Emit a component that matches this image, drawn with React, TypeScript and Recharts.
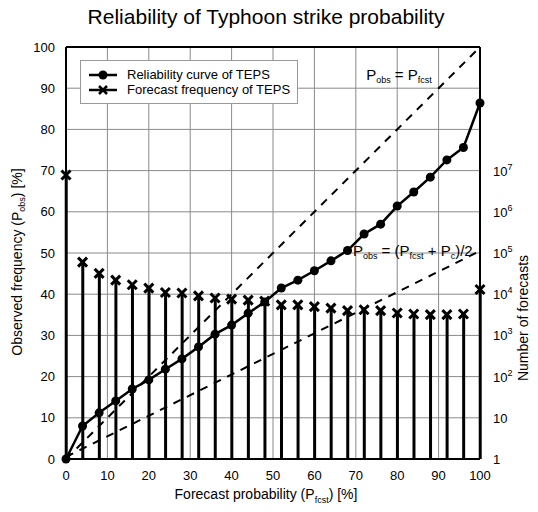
import {
  Bar,
  CartesianGrid,
  ComposedChart,
  Line,
  ReferenceDot,
  ReferenceLine,
  Scatter,
  XAxis,
  YAxis,
} from "recharts";

// forecast probability bins (%)
const probs = [0, 4, 8, 12, 16, 20, 24, 28, 32, 36, 40, 44, 48, 52, 56, 60, 64, 68, 72, 76, 80, 84, 88, 92, 96, 100];
// observed frequency for each bin (%)
const reliability = [
  0, 8.0, 11.2, 14.1, 17.0, 19.2, 21.8, 24.3, 27.2, 30.3, 32.5, 35.4, 38.1, 41.5, 43.4, 45.7, 48.1, 50.6, 54.6,
  57.0, 61.4, 64.8, 68.4, 72.6, 75.6, 86.4,
];
// number of forecasts per bin
const forecastCounts = [
  7.8e6, 6.0e4, 3.2e4, 2.2e4, 1.7e4, 1.4e4, 1.1e4, 1.07e4, 9.1e3, 8.1e3, 7.6e3, 7.2e3, 6.8e3, 5.5e3, 5.5e3, 5.0e3,
  4.6e3, 4.0e3, 4.2e3, 4.0e3, 3.5e3, 3.3e3, 3.2e3, 3.2e3, 3.3e3, 1.3e4,
];
const climatology = 1; // P_c (%)

const pctTicks = [0, 10, 20, 30, 40, 50, 60, 70, 80, 90, 100];
const countTicks = [1, 10, 100, 1e3, 1e4, 1e5, 1e6, 1e7];

const data = probs.map((p, i) => ({ p, obs: reliability[i], count: forecastCounts[i] }));

const FONT = "'Liberation Sans', Arial, Helvetica, sans-serif";

function CrossShape(props: any) {
  const { cx, cy } = props;
  const s = 4.5;
  return (
    <g stroke="#000" strokeWidth={3}>
      <line x1={cx - s} y1={cy - s} x2={cx + s} y2={cy + s} />
      <line x1={cx - s} y1={cy + s} x2={cx + s} y2={cy - s} />
    </g>
  );
}

function PowTick(props: any) {
  const { x, y, payload } = props;
  const e = Math.round(Math.log10(payload.value));
  return (
    <text x={x + 5} y={y + 5} fontSize={13} fontFamily={FONT} fill="#000">
      {e === 0 ? "1" : e === 1 ? "10" : (
        <>
          10
          <tspan dy={-6} fontSize={9}>
            {e}
          </tspan>
        </>
      )}
    </text>
  );
}

function LegendBox() {
  const row = (kind: "dot" | "cross", label: string) => (
    <div style={{ display: "flex", alignItems: "center", height: 15 }}>
      <svg width={36} height={14}>
        <line x1={4} y1={7} x2={32} y2={7} stroke="#000" strokeWidth={2.5} />
        {kind === "dot" ? (
          <circle cx={18} cy={7} r={4.5} fill="#000" />
        ) : (
          <g stroke="#000" strokeWidth={2.5}>
            <line x1={14} y1={3} x2={22} y2={11} />
            <line x1={14} y1={11} x2={22} y2={3} />
          </g>
        )}
      </svg>
      <span style={{ marginLeft: 6 }}>{label}</span>
    </div>
  );
  return (
    <div
      style={{
        position: "absolute",
        left: 80,
        top: 60,
        border: "1px solid #999",
        background: "#fff",
        width: 212,
        padding: "6px 0 6px 4px",
        fontFamily: FONT,
        fontSize: 13,
        color: "#000",
        lineHeight: "15px",
      }}
    >
      {row("dot", "Reliability curve of TEPS")}
      {row("cross", "Forecast frequency of TEPS")}
    </div>
  );
}

function SubLabel({ cx, cy, parts }: any) {
  return (
    <text x={cx} y={cy} fontSize={15} fontFamily={FONT} fill="#000">
      {parts.map((t: [string, boolean], i: number) =>
        t[1] ? (
          <tspan key={i} fontSize={9} dy={3}>
            {t[0]}
          </tspan>
        ) : (
          <tspan key={i} dy={i > 0 && parts[i - 1][1] ? -3 : 0}>
            {t[0]}
          </tspan>
        ),
      )}
    </text>
  );
}

export default function App() {
  return (
    <div
      style={{
        position: "absolute",
        left: 0,
        top: 0,
        width: 538,
        height: 512,
        background: "#fff",
        fontFamily: FONT,
      }}
    >
      <div
        style={{
          position: "absolute",
          top: 5,
          left: 0,
          width: 532,
          textAlign: "center",
          fontSize: 21,
          color: "#000",
        }}
      >
        Reliability of Typhoon strike probability
      </div>

      <ComposedChart
        width={538}
        height={512}
        data={data}
        margin={{ top: 47, right: 18, bottom: 23, left: 26 }}
      >
        <CartesianGrid yAxisId="left" stroke="#8a8a8a" strokeWidth={1} />
        <XAxis
          dataKey="p"
          type="number"
          domain={[0, 100]}
          ticks={pctTicks}
          height={30}
          tickLine={false}
          axisLine={{ stroke: "#000", strokeWidth: 2 }}
          tick={{ fill: "#000", fontSize: 13, fontFamily: FONT }}
          tickMargin={6}
        />
        <YAxis
          yAxisId="left"
          type="number"
          domain={[0, 100]}
          ticks={pctTicks}
          width={40}
          tickLine={false}
          axisLine={{ stroke: "#000", strokeWidth: 2 }}
          tick={{ fill: "#000", fontSize: 13, fontFamily: FONT }}
          tickMargin={5}
        />
        <YAxis
          yAxisId="right"
          orientation="right"
          scale="log"
          type="number"
          domain={[1, 1e10]}
          allowDataOverflow
          ticks={countTicks}
          width={40}
          tickLine={false}
          axisLine={{ stroke: "#000", strokeWidth: 2 }}
          tick={<PowTick />}
        />
        <ReferenceLine yAxisId="left" y={100} stroke="#000" strokeWidth={2} />
        <ReferenceLine
          yAxisId="left"
          segment={[
            { x: 0, y: 0 },
            { x: 100, y: 100 },
          ]}
          stroke="#000"
          strokeWidth={2}
          strokeDasharray="8 7"
        />
        <ReferenceLine
          yAxisId="left"
          segment={[
            { x: 0, y: climatology / 2 },
            { x: 100, y: (100 + climatology) / 2 },
          ]}
          stroke="#000"
          strokeWidth={2}
          strokeDasharray="8 7"
        />
        <Bar yAxisId="right" dataKey="count" barSize={3} fill="#000" isAnimationActive={false} />
        <Scatter yAxisId="right" dataKey="count" shape={<CrossShape />} isAnimationActive={false} />
        <Line
          yAxisId="left"
          type="linear"
          dataKey="obs"
          stroke="#000"
          strokeWidth={2.5}
          dot={{ r: 4.5, fill: "#000", stroke: "#000", strokeWidth: 0 }}
          activeDot={false}
          isAnimationActive={false}
        />
        <ReferenceDot
          yAxisId="left"
          x={72.5}
          y={92}
          r={0}
          shape={(p: any) => (
            <SubLabel
              cx={p.cx}
              cy={p.cy}
              parts={[
                ["P", false],
                ["obs", true],
                [" = P", false],
                ["fcst", true],
              ]}
            />
          )}
        />
        <ReferenceDot
          yAxisId="left"
          x={69.3}
          y={49.3}
          r={0}
          shape={(p: any) => (
            <SubLabel
              cx={p.cx}
              cy={p.cy}
              parts={[
                ["P", false],
                ["obs", true],
                [" = (P", false],
                ["fcst", true],
                [" + P", false],
                ["c", true],
                [")/2", false],
              ]}
            />
          )}
        />
      </ComposedChart>

      <LegendBox />

      <div
        style={{
          position: "absolute",
          left: 0,
          top: 486,
          width: 532,
          textAlign: "center",
          fontSize: 14,
          color: "#000",
        }}
      >
        Forecast probability (P<sub style={{ fontSize: 9 }}>fcst</sub>) [%]
      </div>
      <div
        style={{
          position: "absolute",
          left: 18,
          top: 262,
          transform: "translate(-50%, -50%) rotate(-90deg)",
          whiteSpace: "nowrap",
          fontSize: 14,
          color: "#000",
        }}
      >
        Observed frequency (P<sub style={{ fontSize: 9 }}>obs</sub>) [%]
      </div>
      <div
        style={{
          position: "absolute",
          left: 523,
          top: 318,
          transform: "translate(-50%, -50%) rotate(-90deg)",
          whiteSpace: "nowrap",
          fontSize: 14,
          color: "#000",
        }}
      >
        Number of forecasts
      </div>
    </div>
  );
}
